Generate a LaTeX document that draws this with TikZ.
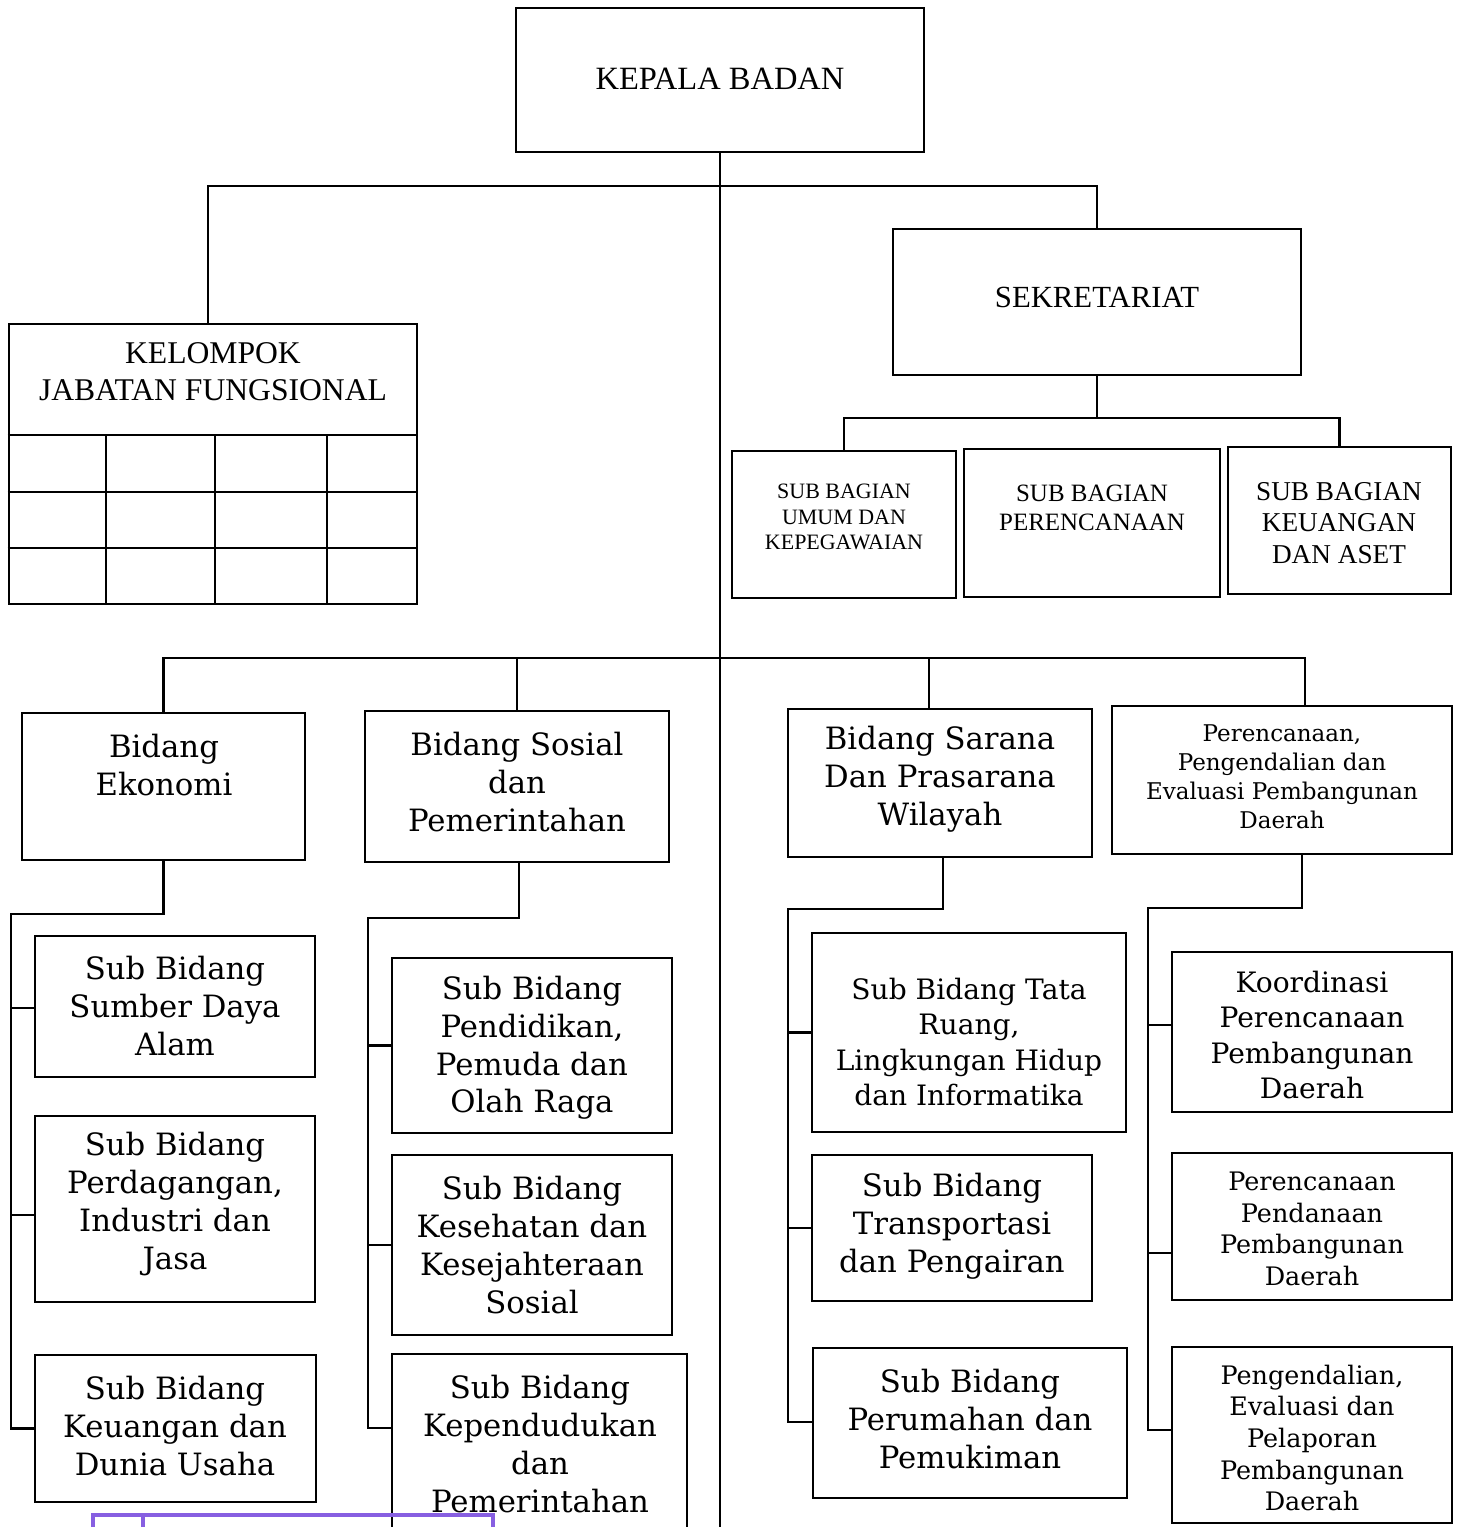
\documentclass[tikz,border=0pt]{standalone}
\usepackage{fontspec}
\setmainfont{Liberation Serif}
\newfontfamily\bookfont{DejaVu Serif}
\usetikzlibrary{fit}
\definecolor{scanpurple}{RGB}{135,95,225}
\tikzset{
  box/.style={draw, line width=1.6pt, inner sep=0pt},
  conn/.style={line width=1.6pt},
  txt/.style={align=center, inner sep=0pt},
  caps/.style={txt, font=\fontsize{18}{21}\selectfont},
  big/.style={txt, font=\bookfont\fontsize{17.5}{21.5}\selectfont},
  mid/.style={txt, font=\bookfont\fontsize{14.5}{18}\selectfont},
}

\begin{document}
\begin{tikzpicture}[x=0.02cm,y=-0.02cm]
\useasboundingbox (0,0) rectangle (1460,1527);
\clip (0,0) rectangle (1460,1527);
% top level
\node[box, fit={(516,8) (924,152)}] (kepala) {};
\node[caps, font=\fontsize{18.5}{22}\selectfont] (kepala-t) at (720,79) {KEPALA BADAN};
\node[box, fit={(9,324) (417,604)}] (kfj) {};
\node[caps] (kfj-t) at (213,372) {KELOMPOK\\JABATAN FUNGSIONAL};
\node[box, fit={(893,229) (1301,375)}] (sekr) {};
\node[caps, font=\fontsize{17.5}{21}\selectfont] (sekr-t) at (1097,297) {SEKRETARIAT};
% sub bagian
\node[box, fit={(732,451) (956,598)}] (umum) {};
\node[txt, font=\fontsize{12.5}{14.3}\selectfont] (umum-t) at (844,517) {SUB BAGIAN\\UMUM DAN\\KEPEGAWAIAN};
\node[box, fit={(964,449) (1220,597)}] (peren) {};
\node[txt, font=\fontsize{14.2}{16.5}\selectfont] (peren-t) at (1092,508) {SUB BAGIAN\\PERENCANAAN};
\node[box, fit={(1228,447) (1451,594)}] (keuas) {};
\node[txt, font=\fontsize{15.5}{17.8}\selectfont] (keuas-t) at (1339,523) {SUB BAGIAN\\KEUANGAN\\DAN ASET};
% bidang
\node[box, fit={(22,713) (305,860)}] (eko) {};
\node[big] (eko-t) at (164,765) {Bidang\\Ekonomi};
\node[box, fit={(365,711) (669,862)}] (sos) {};
\node[big] (sos-t) at (517,782) {Bidang Sosial\\dan\\Pemerintahan};
\node[box, fit={(788,709) (1092,857)}] (sar) {};
\node[big] (sar-t) at (940,779) {Bidang Sarana\\Dan Prasarana\\Wilayah};
\node[box, fit={(1112,706) (1452,854)}] (ppe) {};
\node[txt, font=\bookfont\fontsize{13.1}{16.5}\selectfont] (ppe-t) at (1282,777) {Perencanaan,\\Pengendalian dan\\Evaluasi Pembangunan\\Daerah};
% sub bidang ekonomi
\node[box, fit={(35,936) (315,1077)}] (sda) {};
\node[big] (sda-t) at (175,1006) {Sub Bidang\\Sumber Daya\\Alam};
\node[box, fit={(35,1116) (315,1302)}] (perd) {};
\node[big] (perd-t) at (175,1204) {Sub Bidang\\Perdagangan,\\Industri dan\\Jasa};
\node[box, fit={(35,1355) (316,1502)}] (keu) {};
\node[big] (keu-t) at (175,1426) {Sub Bidang\\Keuangan dan\\Dunia Usaha};
% sub bidang sosial
\node[box, fit={(392,958) (672,1133)}] (pend) {};
\node[big] (pend-t) at (532,1048) {Sub Bidang\\Pendidikan,\\Pemuda dan\\Olah Raga};
\node[box, fit={(392,1155) (672,1335)}] (kes) {};
\node[big] (kes-t) at (532,1245) {Sub Bidang\\Kesehatan dan\\Kesejahteraan\\Sosial};
\node[box, fit={(392,1354) (687,1560)}] (kepd) {};
\node[big] (kepd-t) at (540,1444) {Sub Bidang\\Kependudukan\\dan\\Pemerintahan};
% sub bidang sarana
\node[box, fit={(812,933) (1126,1132)}] (tata) {};
\node[txt, font=\bookfont\fontsize{16}{20}\selectfont] (tata-t) at (969,1042) {Sub Bidang Tata\\Ruang,\\Lingkungan Hidup\\dan Informatika};
\node[box, fit={(812,1155) (1092,1301)}] (trans) {};
\node[big] (trans-t) at (952,1226) {Sub Bidang\\Transportasi\\dan Pengairan};
\node[box, fit={(813,1348) (1127,1498)}] (perum) {};
\node[big] (perum-t) at (970,1419) {Sub Bidang\\Perumahan dan\\Pemukiman};
% sub bidang perencanaan
\node[box, fit={(1172,952) (1452,1112)}] (koord) {};
\node[txt, font=\bookfont\fontsize{16}{20}\selectfont] (koord-t) at (1312,1035) {Koordinasi\\Perencanaan\\Pembangunan\\Daerah};
\node[box, fit={(1172,1153) (1452,1300)}] (pendan) {};
\node[mid] (pendan-t) at (1312,1229) {Perencanaan\\Pendanaan\\Pembangunan\\Daerah};
\node[box, fit={(1172,1347) (1452,1523)}] (pengd) {};
\node[mid] (pengd-t) at (1312,1438) {Pengendalian,\\Evaluasi dan\\Pelaporan\\Pembangunan\\Daerah};
% tabel jabatan fungsional
\foreach \y in {435,492,548} \draw[conn] (kfj.west |- 0,\y) -- (kfj.east |- 0,\y);
\foreach \x in {106,215,327} \draw[conn] (\x,435) -- (\x,604);
% garis komando
\coordinate (trunk-end) at (720,1527);
\coordinate (bus-top) at (720,186);
\coordinate (bus-sekr) at (1097,418);
\coordinate (bus-bid) at (720,658);
\draw[conn] (kepala.south) -- (trunk-end);
\draw[conn] (kfj.north -| 208,0) |- (bus-top) -| (sekr.north);
\draw[conn] (sekr.south) -- (bus-sekr);
\draw[conn] (umum.north) |- (bus-sekr) -| (keuas.north);
\draw[conn] (eko.north) |- (bus-bid) -| (ppe.north -| 1305,0);
\draw[conn] (sos.north) -- (sos.north |- bus-bid);
\draw[conn] (sar.north -| 929,0) -- (929,0 |- bus-bid);
% ekonomi
\coordinate (eko-bend) at (11,914);
\draw[conn] (eko.south) |- (eko-bend) |- (keu.west);
\draw[conn] (eko-bend |- 0,1008) -- (sda.west |- 0,1008);
\draw[conn] (eko-bend |- 0,1215) -- (perd.west |- 0,1215);
% sosial
\coordinate (sos-bend) at (368,918);
\draw[conn] (sos.south -| 519,0) |- (sos-bend) |- (kepd.west |- 0,1428);
\draw[conn] (sos-bend |- pend.west) -- (pend.west);
\draw[conn] (sos-bend |- kes.west) -- (kes.west);
% sarana
\coordinate (sar-bend) at (788,909);
\draw[conn] (sar.south -| 943,0) |- (sar-bend) |- (perum.west |- 0,1422);
\draw[conn] (sar-bend |- tata.west) -- (tata.west);
\draw[conn] (sar-bend |- trans.west) -- (trans.west);
% perencanaan
\coordinate (ppe-bend) at (1148,908);
\draw[conn] (ppe.south -| 1302,0) |- (ppe-bend) |- (pengd.west |- 0,1430);
\draw[conn] (ppe-bend |- 0,1025) -- (koord.west |- 0,1025);
\draw[conn] (ppe-bend |- 0,1253) -- (pendan.west |- 0,1253);
% purple frame at the bottom edge
\draw[scanpurple, line width=2.2pt] (93,1535) |- (493,1515) -- (493,1535);
\draw[scanpurple, line width=2.2pt] (143,1515) -- (143,1535);
\end{tikzpicture}
\end{document}
